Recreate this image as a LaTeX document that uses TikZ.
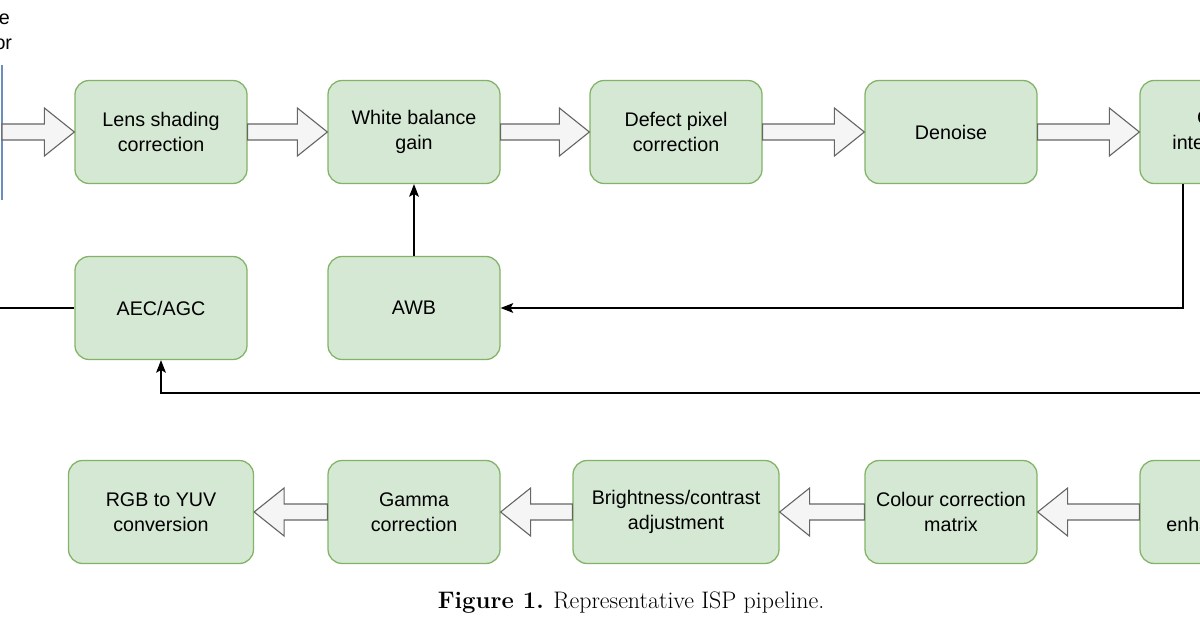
\documentclass[tikz,border=0pt]{standalone}
\usepackage{fontspec}
\setmainfont{Liberation Sans}
\newfontfamily\capfont{Latin Modern Roman}
\usetikzlibrary{calc,arrows.meta}
\definecolor{boxfill}{HTML}{D5E8D4}
\definecolor{boxline}{HTML}{82B366}
\definecolor{fatfill}{HTML}{F5F5F5}
\definecolor{fatline}{HTML}{666666}
\definecolor{sensline}{HTML}{6C8EBF}
\tikzset{
  stage/.style={draw=boxline, fill=boxfill, rounded corners=10pt, line width=0.9pt,
    minimum height=103*0.025cm, align=center, font=\fontsize{14}{17.7}\selectfont},
  fat/.style={draw=fatline, fill=fatfill, line width=0.8pt},
  thin/.style={draw=black, line width=0.8pt, -{Stealth[length=9pt,width=7pt,inset=2pt]}}
}
% fat arrow from #1 to #2, #3 = +1 (right) or -1 (left)
\newcommand{\fatarr}[3]{%
  \draw[fat] ($(#1)+(0,-8)$) -- ($(#2)+(-30*#3,-8)$) -- ($(#2)+(-30*#3,-24)$) -- (#2)
    -- ($(#2)+(-30*#3,24)$) -- ($(#2)+(-30*#3,8)$) -- ($(#1)+(0,8)$) -- cycle;}
\begin{document}
\begin{tikzpicture}[x=0.025cm, y=-0.025cm]
  \useasboundingbox (0,0) rectangle (1200,630);
  \clip (0,0) rectangle (1200,630);

  % sensor
  \coordinate (sens) at (2,132);
  \draw[sensline, line width=0.9pt] (2,65) -- (2,200);
  \node[align=center, anchor=east, font=\fontsize{14}{17.7}\selectfont] (senstxt) at (17,30) {Image\\sensor};

  % top row
  \node[stage, minimum width=172*0.025cm] (lsc) at (161,132) {Lens shading\\correction};
  \node[stage, minimum width=172*0.025cm] (wbg) at (414,132) {White balance\\gain};
  \node[stage, minimum width=172*0.025cm] (dpc) at (676,132) {Defect pixel\\correction};
  \node[stage, minimum width=172*0.025cm] (dns) at (951,132) {Denoise};
  \node[stage, minimum width=172*0.025cm] (cfa) at (1226,132) {Colour\\interpolation};

  % middle row
  \node[stage, minimum width=172*0.025cm] (aec) at (161,308) {AEC/AGC};
  \node[stage, minimum width=172*0.025cm] (awb) at (414,308) {AWB};

  % bottom row
  \node[stage, minimum width=185*0.025cm] (yuv) at (161,512) {RGB to YUV\\conversion};
  \node[stage, minimum width=172*0.025cm] (gam) at (414,512) {Gamma\\correction};
  \node[stage, minimum width=206*0.025cm] (bca) at (676,512) {Brightness/contrast\\adjustment};
  \node[stage, minimum width=172*0.025cm] (ccm) at (951,512) {Colour correction\\matrix};
  \node[stage, minimum width=172*0.025cm] (edg) at (1226,512) {Edge\\enhancement};

  % fat arrows
  \fatarr{sens}{lsc.west}{1}
  \fatarr{lsc.east}{wbg.west}{1}
  \fatarr{wbg.east}{dpc.west}{1}
  \fatarr{dpc.east}{dns.west}{1}
  \fatarr{dns.east}{cfa.west}{1}
  \fatarr{edg.west}{ccm.east}{-1}
  \fatarr{ccm.west}{bca.east}{-1}
  \fatarr{bca.west}{gam.east}{-1}
  \fatarr{gam.west}{yuv.east}{-1}

  % feedback lines
  \coordinate (aecout) at (-10,308);
  \coordinate (statin) at (1210,393);
  \draw[line width=0.8pt] (aec.west) -- (aecout);
  \draw[thin] (awb.north) -- (wbg.south);
  \draw[thin] (cfa.south -| 1183,0) |- (awb.east);
  \draw[thin] (statin) -| (aec.south);

  % caption
  \node[font=\capfont\fontsize{17}{20}\selectfont] (cap) at (631,603) {\textbf{Figure 1.} Representative ISP pipeline.};
\end{tikzpicture}
\end{document}
